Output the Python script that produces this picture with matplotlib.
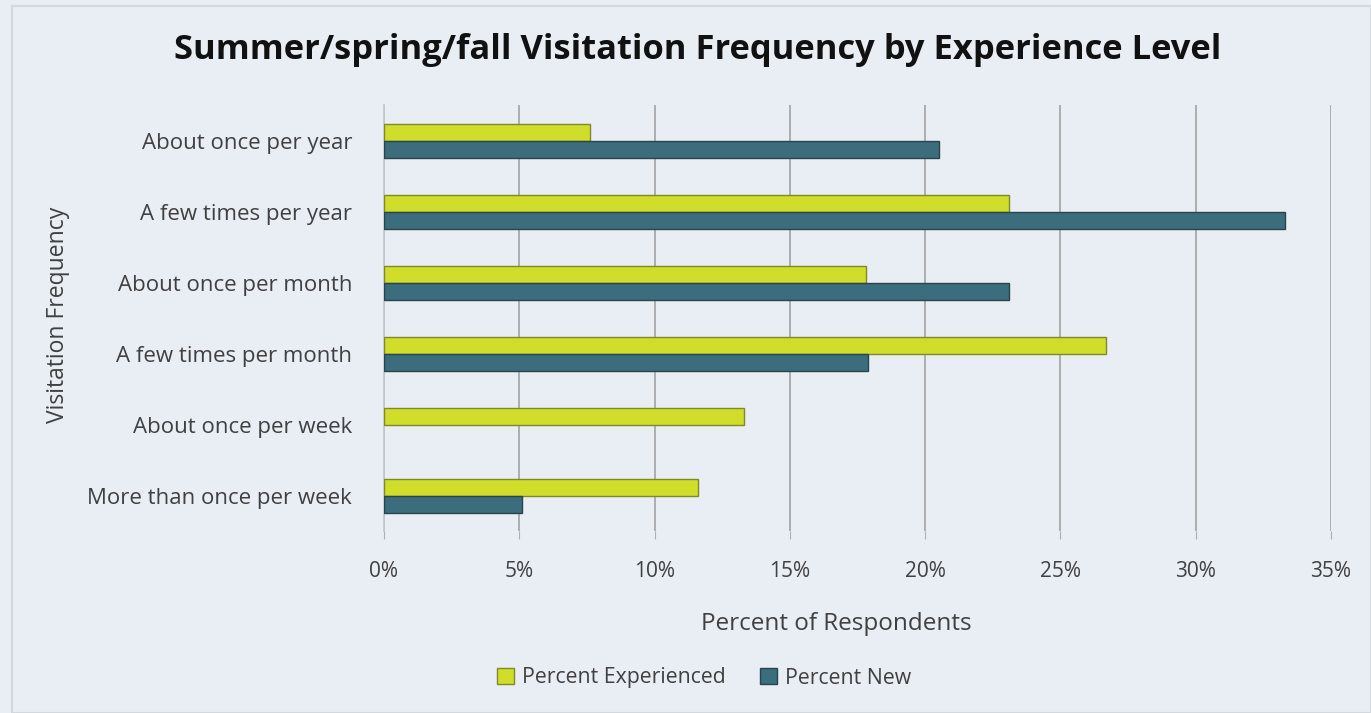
import matplotlib
matplotlib.use("Agg")
import matplotlib.pyplot as plt
import numpy as np
from matplotlib.patches import Rectangle

categories = ["About once per year", "A few times per year", "About once per month",
              "A few times per month", "About once per week", "More than once per week"]
experienced = [7.6, 23.1, 17.8, 26.7, 13.3, 11.6]
new = [20.5, 33.3, 23.1, 17.9, 0.0, 5.1]
xticks = [0, 5, 10, 15, 20, 25, 30, 35]
xticklabels = ["0%", "5%", "10%", "15%", "20%", "25%", "30%", "35%"]

plt.rcParams['font.family'] = ['Open Sans', 'DejaVu Sans']

bg = "#E9EDF4"
c_exp = "#D1DD2B"
c_exp_edge = "#7E8A2A"
c_new = "#3B6D7C"
c_new_edge = "#2A434C"
txt = "#404040"

fig = plt.figure(figsize=(13.71, 7.13), dpi=100)
fig.patch.set_facecolor(bg)
fig.patches.append(Rectangle((12/1371, 0), 1 - 12/1371, 1 - 6/713, transform=fig.transFigure,
                             fill=False, edgecolor="#D4D7DC", linewidth=1.5))

ax = fig.add_axes([384/1371, 1 - 531.4/713, 947/1371, 426/713])
ax.set_facecolor(bg)

y = np.arange(len(categories))
h = 0.245
ax.barh(y - h/2, experienced, height=h, color=c_exp,
        edgecolor=[c_exp_edge if v > 0 else "none" for v in experienced], linewidth=1.0,
        label="Percent Experienced", zorder=3)
ax.barh(y + h/2, new, height=h, color=c_new,
        edgecolor=[c_new_edge if v > 0 else "none" for v in new], linewidth=1.0,
        label="Percent New", zorder=3)

ax.set_ylim(len(categories) - 0.5, -0.5)
ax.set_xlim(0, 35)
ax.set_yticks(y)
ax.set_yticklabels(categories, fontsize=16, color=txt)
ax.set_xticks(xticks)
ax.set_xticklabels(xticklabels, fontsize=15, color=txt)
ax.tick_params(axis='y', length=0, pad=23)
ax.tick_params(axis='x', length=6, color="#B0B0B0", pad=15)
ax.grid(axis='x', color="#A8A8A8", linewidth=1.3, zorder=0)
for s in ["top", "right", "bottom"]:
    ax.spines[s].set_visible(False)
ax.spines["left"].set_color("#C8C8C8")
ax.spines["left"].set_linewidth(1.3)

ax.set_xlabel("Percent of Respondents", fontsize=17.5, color=txt)
ax.xaxis.set_label_coords((836 - 384) / 947, -(624 - 531.4) / 426)
ax.xaxis.label.set_va("center")
ax.set_ylabel("Visitation Frequency", fontsize=16.5, color=txt)
ax.yaxis.set_label_coords(-(384 - 58) / 947, (531.4 - 315) / 426)
ax.yaxis.label.set_va("center")

fig.text(698/1371, 1 - 50/713, "Summer/spring/fall Visitation Frequency by Experience Level",
         ha="center", va="center", fontsize=24.8, fontweight="bold", color="#111111")

leg = fig.legend(loc="center", bbox_to_anchor=(704/1371, 1 - 678/713), ncol=2, frameon=False,
                 fontsize=15.3, handlelength=0.8, handleheight=0.8, columnspacing=1.6,
                 handletextpad=0.4, labelcolor=txt)

fig.savefig("out.png", dpi=100, facecolor=bg)
